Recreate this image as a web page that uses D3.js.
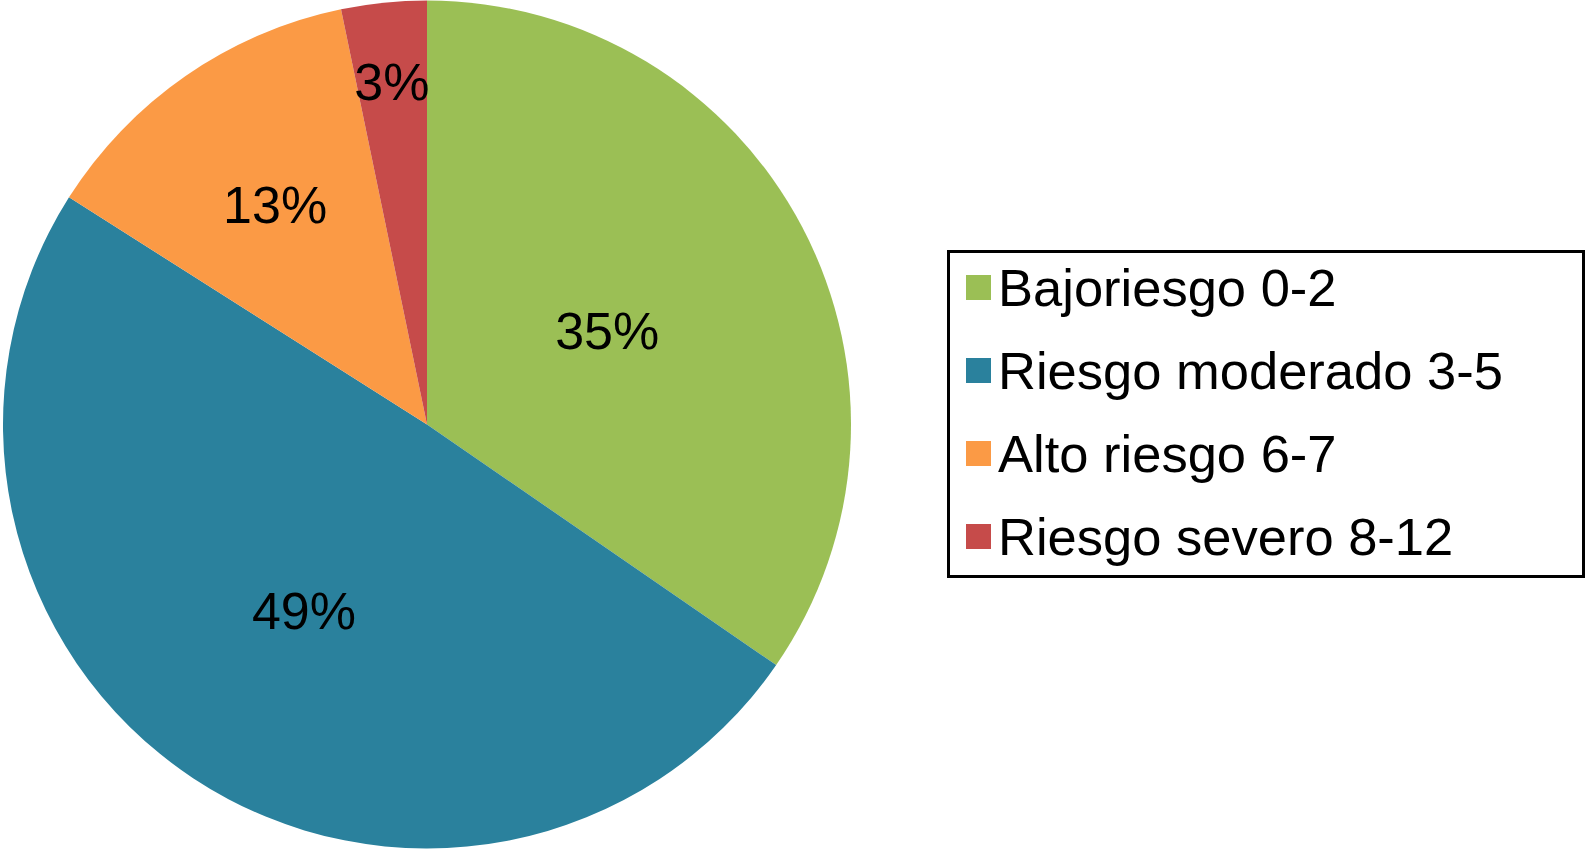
<!DOCTYPE html>
<html>
<head>
<meta charset="utf-8">
<script src="https://cdn.jsdelivr.net/npm/d3@7"></script>
<style>
  body { margin: 0; background: #fff; }
  text { font-family: "Liberation Sans", Arial, Helvetica, sans-serif; fill: #000; }
</style>
</head>
<body>
<div id="chart"></div>
<script>
// risk categories and their share (%)
var categories = ["Bajoriesgo 0-2", "Riesgo moderado 3-5", "Alto riesgo 6-7", "Riesgo severo 8-12"];
var shares = [34.6, 49.4, 12.75, 3.25];
var shareLabels = ["35%", "49%", "13%", "3%"];
var colors = ["#9BBF55", "#2A819D", "#FB9A45", "#C64B4A"];

// where each data label sits along its slice (fraction of radius)
var labelRadius = [0.48, 0.526, 0.63, 0.814];

var width = 1585, height = 854;
var cx = 427, cy = 424.5, radius = 424;

var svg = d3.select("#chart").append("svg")
    .attr("width", width)
    .attr("height", height);

var data = categories.map(function(c, i){
  return {name: c, value: shares[i], label: shareLabels[i], color: colors[i], lr: labelRadius[i]};
});

var pie = d3.pie()
    .sort(null)
    .value(function(d){ return d.value; });

var arc = d3.arc().innerRadius(0).outerRadius(radius);

var g = svg.append("g").attr("transform", "translate(" + cx + "," + cy + ")");
var slices = pie(data);

g.selectAll("path.slice")
  .data(slices)
  .enter()
  .append("path")
  .attr("class", "slice")
  .attr("d", arc)
  .attr("fill", function(d){ return d.data.color; });

g.selectAll("text.pct")
  .data(slices)
  .enter()
  .append("text")
  .attr("class", "pct")
  .attr("transform", function(d){
    var a = (d.startAngle + d.endAngle) / 2;
    var r = radius * d.data.lr;
    return "translate(" + (Math.sin(a) * r) + "," + (-Math.cos(a) * r) + ")";
  })
  .attr("text-anchor", "middle")
  .attr("dy", "0.36em")
  .style("font-size", "52px")
  .text(function(d){ return d.data.label; });

// legend
var legend = svg.append("g").attr("class", "legend");
legend.append("rect")
  .attr("x", 948.5)
  .attr("y", 251.5)
  .attr("width", 635)
  .attr("height", 325)
  .attr("fill", "#fff")
  .attr("stroke", "#000")
  .attr("stroke-width", 3);

var rowY = d3.scalePoint()
  .domain(categories)
  .range([306, 555]);

var rows = legend.selectAll("g.row")
  .data(data)
  .enter()
  .append("g")
  .attr("class", "row")
  .attr("transform", function(d){ return "translate(0," + rowY(d.name) + ")"; });

rows.append("rect")
  .attr("x", 966)
  .attr("y", -31)
  .attr("width", 25)
  .attr("height", 25)
  .attr("fill", function(d){ return d.color; });

rows.append("text")
  .attr("x", 998)
  .attr("y", 0)
  .style("font-size", "52.5px")
  .text(function(d){ return d.name; });
</script>
</body>
</html>
